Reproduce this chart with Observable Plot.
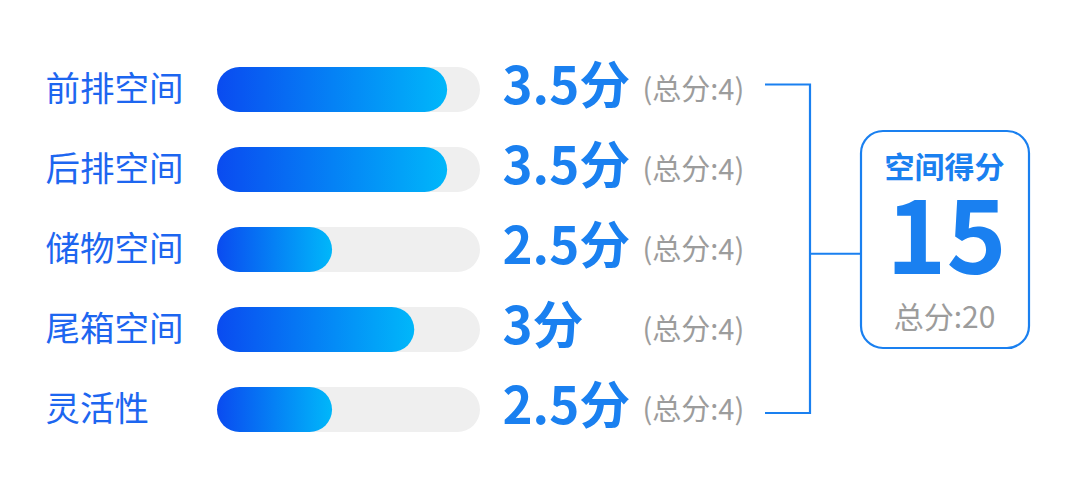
<!DOCTYPE html>
<html><head><meta charset="utf-8">
<script src="https://cdn.jsdelivr.net/npm/d3@7"></script>
<script src="https://cdn.jsdelivr.net/npm/@observablehq/plot@0.6"></script>
<style>html,body{margin:0;padding:0;background:#fff;}</style>
</head><body><div id="chart"></div>
<script>
// ---- data ----
const categories = ["前排空间", "后排空间", "储物空间", "尾箱空间", "灵活性"];
const scores = [3.5, 3.5, 2.5, 3, 2.5];
const barLengths = [3.5, 3.5, 1.75, 3, 1.75]; // bar lengths as drawn in the picture
const maxScores = [4, 4, 4, 4, 4];
const totalTitle = "空间得分";
const totalMax = 20;

const rows = categories.map((c, i) => ({cat: c, score: scores[i], len: barLengths[i], max: maxScores[i]}));
const total = d3.sum(scores);

const FONT = "'Noto Sans CJK SC', 'Noto Sans', sans-serif";
const LABEL_BLUE = "#1d66f0";
const SCORE_BLUE = "#1a80f0";
const GRAY = "#9c9c9c";

const plot = Plot.plot({
  width: 1080,
  height: 488,
  marginLeft: 0, marginRight: 0, marginTop: 30, marginBottom: 20,
  style: {fontFamily: FONT, background: "#fff", overflow: "visible"},
  x: {domain: [0, 4], range: [217, 480], axis: null},
  y: {domain: categories, padding: 0.44, axis: null},
  marks: [
    Plot.barX(rows, {y: "cat", x1: 0, x2: d => d.max, fill: "#efefef", rx: 22.5}),
    Plot.barX(rows, {y: "cat", x1: 0, x2: "len", fill: "url(#barGrad)", rx: 22.5}),
    Plot.text(rows, {y: "cat", x: 0, dx: -172, text: "cat", textAnchor: "start", fontSize: 34.5, fill: LABEL_BLUE}),
    Plot.text(rows, {y: "cat", x: d => d.max, dx: 22, dy: -2, text: d => `${d.score}分`, textAnchor: "start", fontSize: 51, fontWeight: "bold", fill: SCORE_BLUE}),
    Plot.text(rows, {y: "cat", x: d => d.max, dx: 162, dy: 1, text: d => `(总分:${d.max})`, textAnchor: "start", fontSize: 29, fill: GRAY}),
    Plot.text([totalTitle], {frameAnchor: "top-left", lineAnchor: "middle", dx: 944, dy: 138, text: d => d, textAnchor: "middle", fontSize: 30, fontWeight: "bold", fill: SCORE_BLUE}),
    Plot.text([total], {frameAnchor: "top-left", lineAnchor: "middle", dx: 946, dy: 211, text: d => String(d), textAnchor: "middle", fontSize: 102, fontWeight: "bold", fill: SCORE_BLUE}),
    Plot.text([totalMax], {frameAnchor: "top-left", lineAnchor: "middle", dx: 944, dy: 288, text: d => `总分:${d}`, textAnchor: "middle", fontSize: 30, fill: GRAY})
  ]
});

const svg = d3.select(plot);
const defs = svg.insert("defs", ":first-child");
const grad = defs.append("linearGradient").attr("id", "barGrad")
  .attr("x1", "0").attr("x2", "1").attr("y1", "0").attr("y2", "0");
grad.append("stop").attr("offset", "0%").attr("stop-color", "#0a4bf0");
grad.append("stop").attr("offset", "100%").attr("stop-color", "#00b7fa");

// bracket and total box, positioned from the y scale
const ys = plot.scale("y");
const centerOf = c => ys.apply(c) + ys.bandwidth / 2;
const yTop = centerOf(categories[0]) - 5;
const yBot = centerOf(categories[categories.length - 1]) + 3.5;
const yMid = (yTop + yBot) / 2 + 5;
const deco = svg.append("g").attr("fill", "none").attr("stroke", SCORE_BLUE).attr("stroke-width", 2.2);
deco.append("path").attr("d", `M765,${yTop}H810V${yBot}H765M810,${yMid}H860`);
deco.append("rect").attr("x", 861).attr("y", 131).attr("width", 168).attr("height", 217).attr("rx", 22);

document.getElementById("chart").appendChild(plot);
</script>
</body></html>
